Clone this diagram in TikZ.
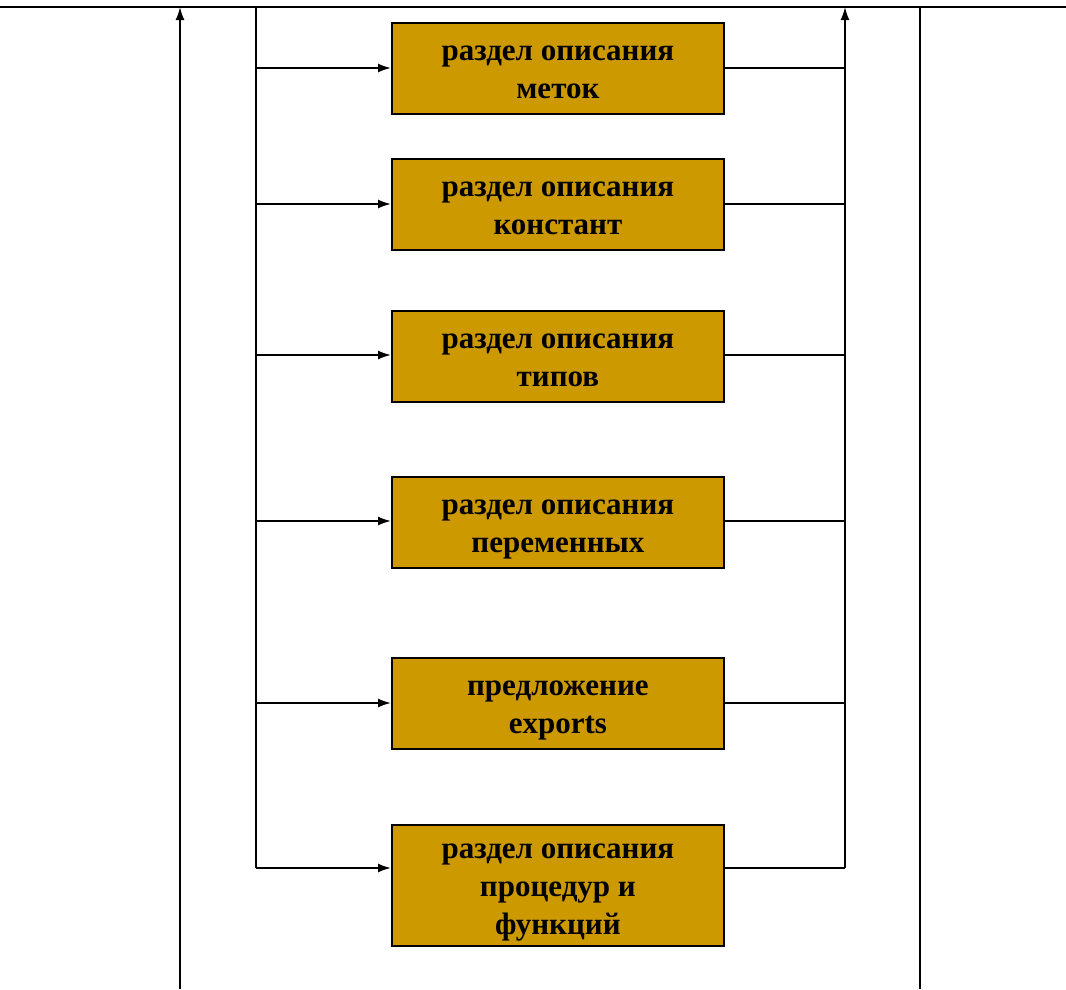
\documentclass[tikz,border=0pt]{standalone}
\usepackage{fontspec}
\setmainfont{Liberation Serif}
\usetikzlibrary{arrows.meta}
\definecolor{boxfill}{HTML}{CC9900}
\newcommand\sectlines[2]{\raisebox{#1}[0pt][0pt]{\parbox[t]{326pt}{\centering #2}}}
\begin{document}
\begin{tikzpicture}[x=1pt,y=-1pt,
  line width=1.8pt,
  sect/.style={draw=black, fill=boxfill, line width=1.8pt, minimum width=332pt, minimum height=91pt, inner sep=0pt, font=\fontsize{31}{38}\selectfont\bfseries, anchor=north west},
  arr/.style={-{Latex[length=13pt,width=9pt]}}
]
\useasboundingbox (0,0) rectangle (1066,989);
% boxes
\node[sect] (b1) at (391,22) {\sectlines{7.5pt}{раздел описания\\меток}};
\node[sect] (b2) at (391,158) {\sectlines{7.5pt}{раздел описания\\констант}};
\node[sect] (b3) at (391,310) {\sectlines{7.5pt}{раздел описания\\типов}};
\node[sect] (b4) at (391,476) {\sectlines{7.5pt}{раздел описания\\переменных}};
\node[sect] (b5) at (391,657) {\sectlines{7.5pt}{предложение\\exports}};
\node[sect, minimum height=121pt] (b6) at (391,824) {\sectlines{26.5pt}{раздел описания\\процедур и\\функций}};
% coordinates
\coordinate (tl) at (0,7);
\coordinate (tr) at (1066,7);
\coordinate (lbtop) at (256,7);
\coordinate (lbbot) at (256,868);
\coordinate (rbtop) at (845,7);
\coordinate (rbbot) at (845,868);
\coordinate (loopbot) at (180,989);
\coordinate (looptop) at (180,7);
\coordinate (outtop) at (920,7);
\coordinate (outbot) at (920,989);
\coordinate (r1) at (256,68);
\coordinate (r2) at (256,204);
\coordinate (r3) at (256,355);
\coordinate (r4) at (256,521);
\coordinate (r5) at (256,703);
\coordinate (r6) at (256,868);
% main lines
\draw (tl) -- (tr);
\draw (lbtop) -- (lbbot);
\draw[arr] (rbbot) -- (rbtop);
\draw[arr] (loopbot) -- (looptop);
\draw (outtop) -- (outbot);
% branches
\foreach \i in {1,...,6}{
  \draw[arr] (r\i) -- (b\i.west |- r\i);
  \draw (b\i.east |- r\i) -- (rbtop |- r\i);
}
\end{tikzpicture}
\end{document}
